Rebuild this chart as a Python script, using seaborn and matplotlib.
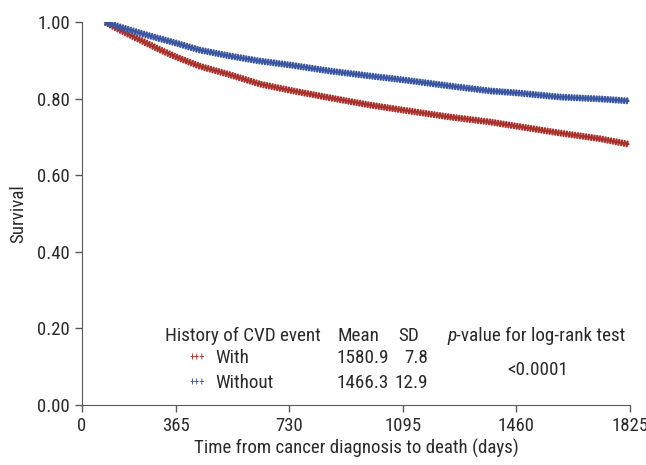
import pandas as pd
import numpy as np
import matplotlib
matplotlib.use('Agg')
import matplotlib.pyplot as plt
import matplotlib.patheffects as pe
import seaborn as sns

#########################
########### Data
days = [137, 185, 250, 315, 365, 440, 540, 635, 730, 860, 990, 1095, 1245, 1375, 1460, 1600, 1730, 1820]
surv_with = [1.000, 0.979, 0.953, 0.927, 0.909, 0.885, 0.862, 0.838, 0.822, 0.802, 0.783, 0.770,
             0.752, 0.739, 0.728, 0.710, 0.695, 0.681]
surv_without = [1.000, 0.987, 0.971, 0.956, 0.945, 0.927, 0.911, 0.898, 0.888, 0.872, 0.859, 0.849,
                0.833, 0.820, 0.815, 0.804, 0.799, 0.794]

groups = ['With', 'Without']
means = ['1580.9', '1466.3']
sds = ['7.8', '12.9']
p_value = '<0.0001'

xtick_pos = [63, 365, 730, 1095, 1460, 1825]
xtick_labels = ['0', '365', '730', '1095', '1460', '1825']
ytick_pos = [0.0, 0.2, 0.4, 0.6, 0.8, 1.0]

colors = {'With': '#a8312c', 'Without': '#3a56a0'}

#########################
########### Style
sns.set_style('ticks')
plt.rcParams['font.family'] = ['Roboto Condensed', 'DejaVu Sans']
plt.rcParams['axes.edgecolor'] = '#5a5a5a'
plt.rcParams['xtick.color'] = '#5a5a5a'
plt.rcParams['ytick.color'] = '#5a5a5a'
plt.rcParams['xtick.labelcolor'] = '#2a2a2a'
plt.rcParams['ytick.labelcolor'] = '#2a2a2a'

df = pd.DataFrame({
    'Time': days + days,
    'Survival': surv_with + surv_without,
    'Group': ['With'] * len(days) + ['Without'] * len(days),
})

fig = plt.figure(figsize=(6.46, 4.65), dpi=100)
ax = fig.add_axes([82 / 646, 1 - 405 / 465, 548 / 646, 383 / 465])

sns.lineplot(data=df, x='Time', y='Survival', hue='Group', palette=colors,
             linewidth=1.7, legend=False, ax=ax)

# censoring marks: small ticks across the curve
for line in ax.get_lines():
    line.set_path_effects([pe.Normal(),
                           pe.TickedStroke(spacing=2.0, angle=90, length=0.85),
                           pe.TickedStroke(spacing=2.0, angle=-90, length=0.85)])

ax.set_xlim(xtick_pos[0], xtick_pos[-1])
ax.set_ylim(0, 1.0)
ax.set_xticks(xtick_pos)
ax.set_xticklabels(xtick_labels)
ax.set_yticks(ytick_pos)
ax.set_yticklabels(['%.2f' % v for v in ytick_pos])
ax.tick_params(axis='both', labelsize=13.5, length=5, width=1, direction='out')
ax.set_xlabel('Time from cancer diagnosis to death (days)', fontsize=13.6, color='#2a2a2a', labelpad=3)
ax.set_ylabel('Survival', fontsize=13.6, color='#2a2a2a', labelpad=7)
sns.despine(ax=ax)

#########################
########### Table-like legend
fs = 13.8
tc = '#2a2a2a'
tr = ax.transAxes
ax.text(0.1515, 0.180, 'History of CVD event', transform=tr, fontsize=fs, color=tc, va='center')
ax.text(0.467, 0.180, 'Mean', transform=tr, fontsize=fs, color=tc, va='center')
ax.text(0.577, 0.180, 'SD', transform=tr, fontsize=fs, color=tc, va='center')
t_p = ax.text(0.666, 0.180, 'p', transform=tr, fontsize=fs, color=tc, va='center', style='italic')
ax.annotate('-value for log-rank test', xy=(1, 0), xycoords=t_p, fontsize=fs, color=tc,
            va='bottom', ha='left')

rows_y = [0.1227, 0.0574]
for g, m, s, yy in zip(groups, means, sds, rows_y):
    ax.text(0.197, yy, '+++', transform=tr, fontsize=7.5, color=colors[g], va='center')
    ax.text(0.2427, yy, g, transform=tr, fontsize=fs, color=tc, va='center')
    ax.text(0.465, yy, m, transform=tr, fontsize=fs, color=tc, va='center')
    ax.text(0.631, yy, s, transform=tr, fontsize=fs, color=tc, va='center', ha='right')

ax.text(0.832, 0.0914, p_value, transform=tr, fontsize=fs, color=tc, va='center', ha='center')

fig.savefig('out.png', dpi=100)
